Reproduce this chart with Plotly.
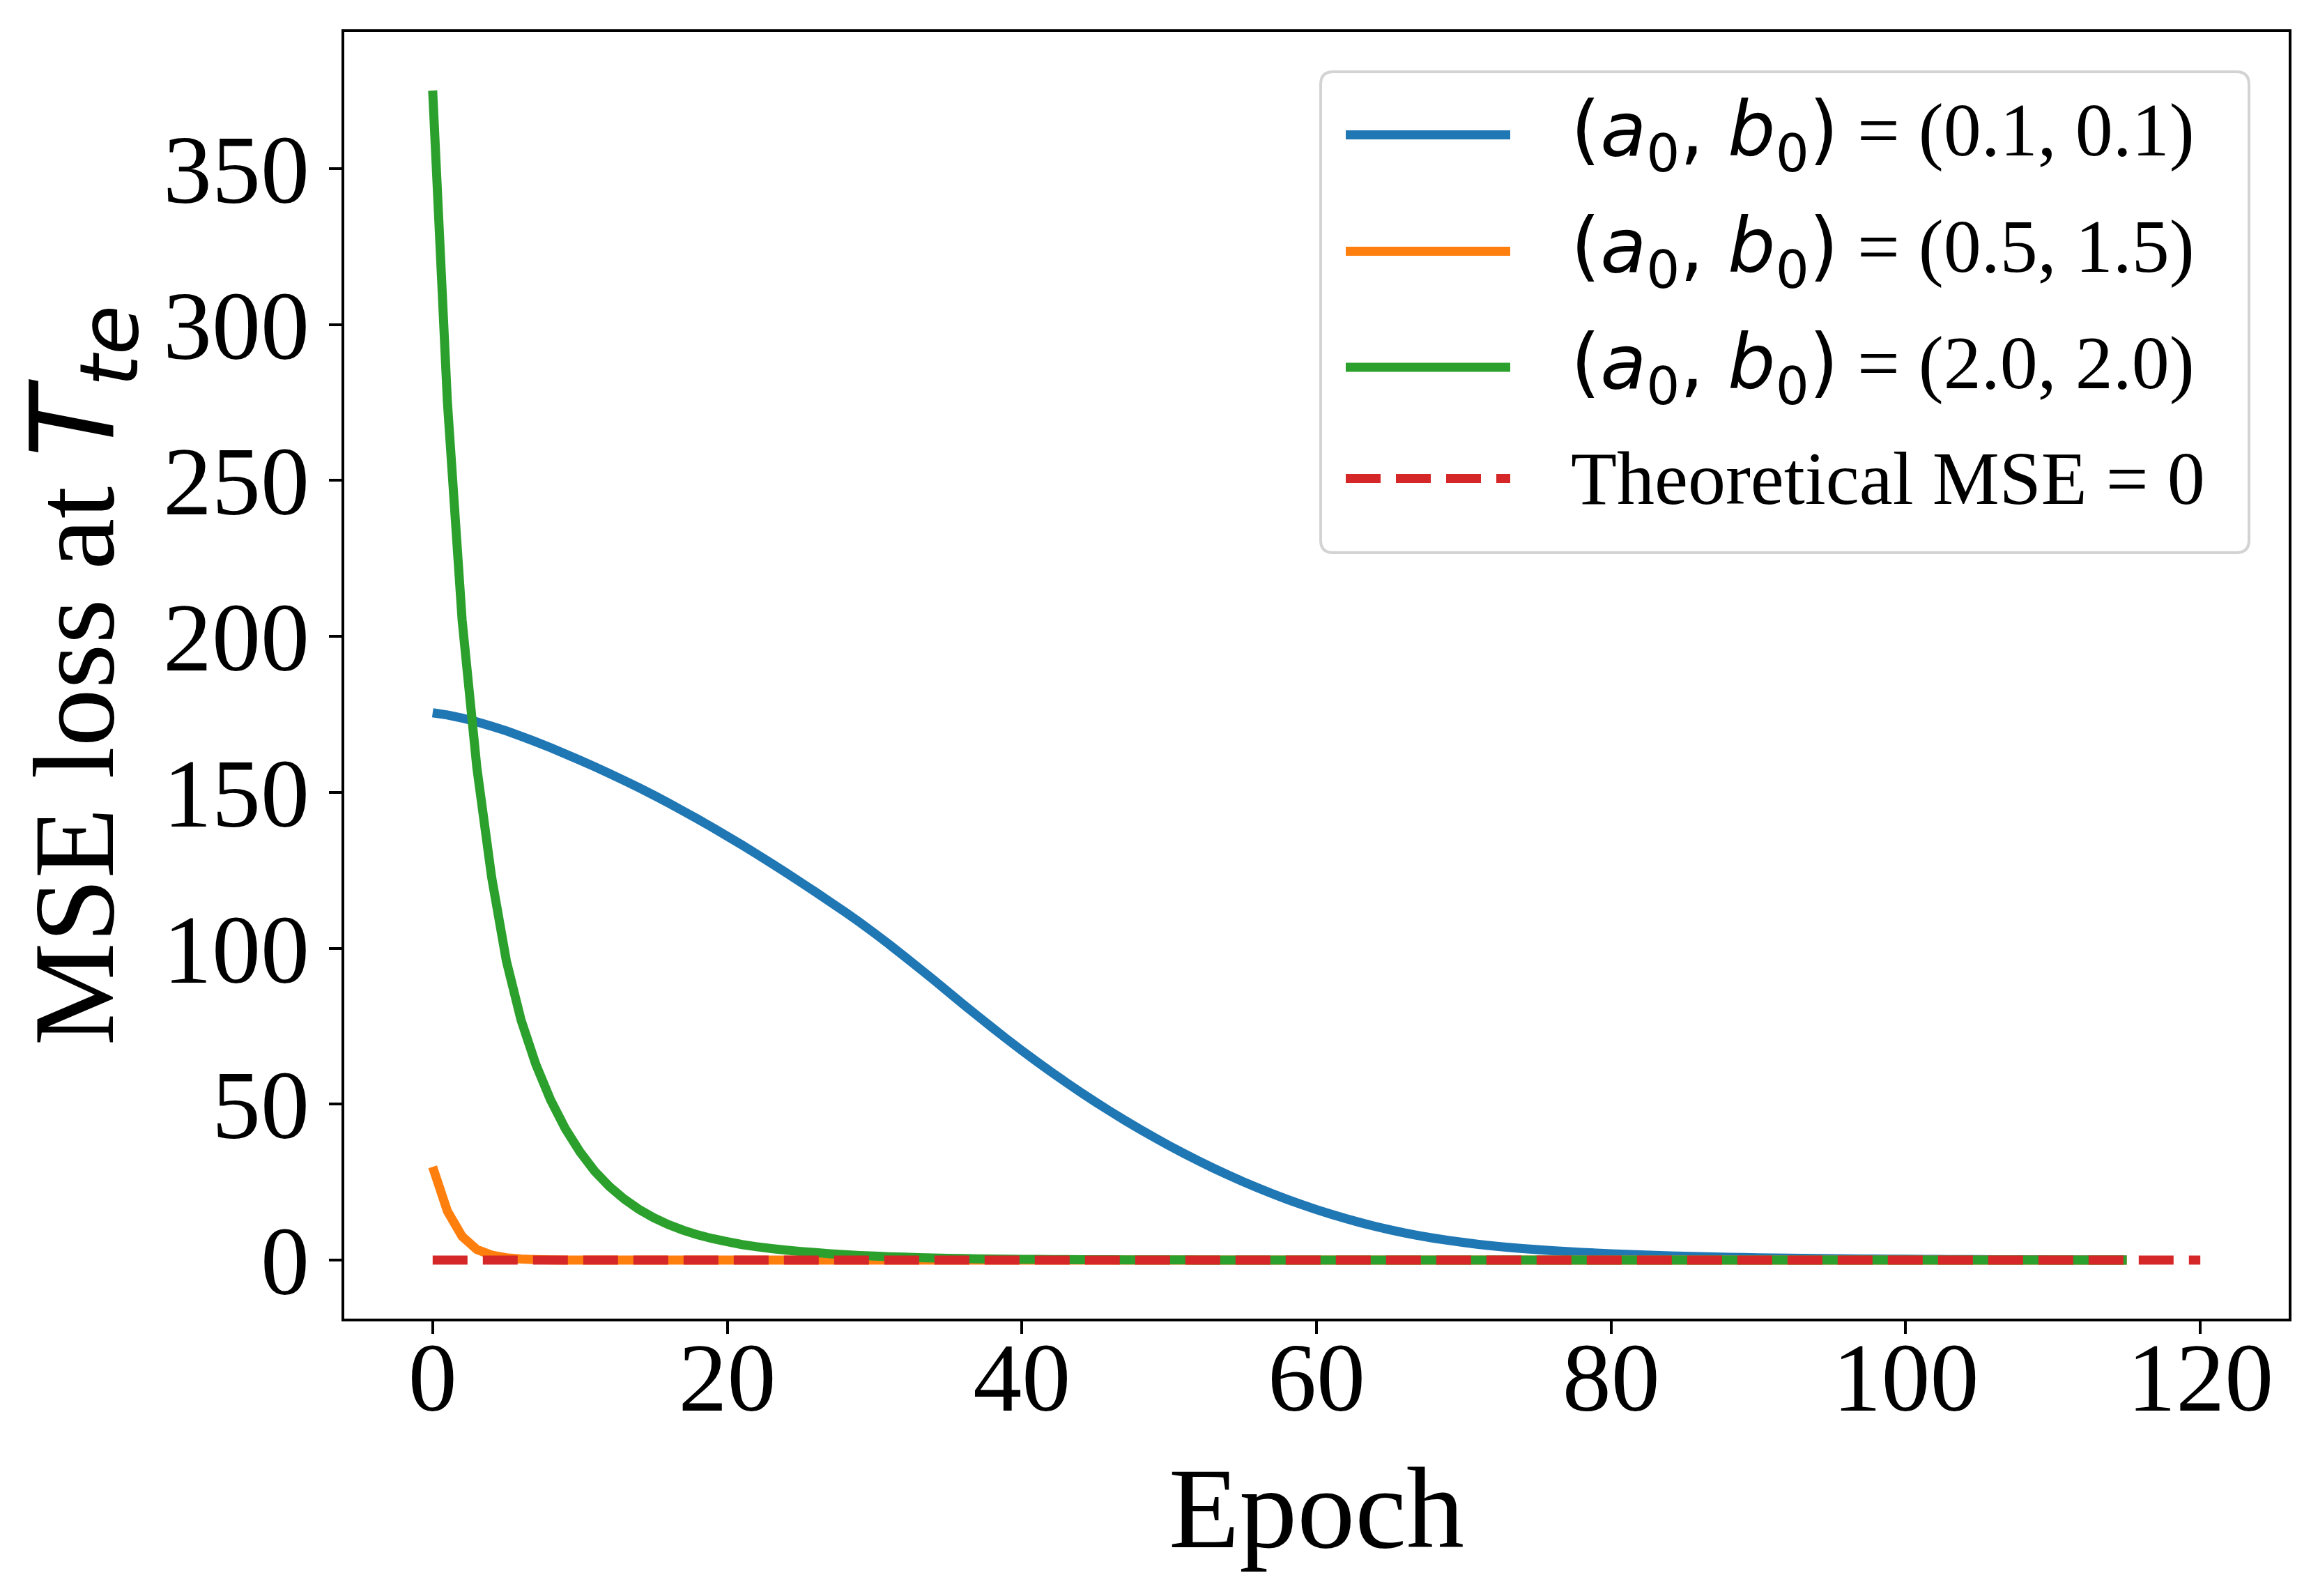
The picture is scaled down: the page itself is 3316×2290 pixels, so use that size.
import plotly.graph_objects as go

# canvas and plot-area box (pixels)
FIG_W, FIG_H = 3316, 2290
AX_L, AX_R, AX_T, AX_B = 486, 3276, 38, 1884

epochs = list(range(116))
theory_x = [0, 120]
theory_y = [0, 0]

# (a0, b0) = (0.1, 0.1)
blue_loss = [
    175.5, 174.8, 173.8, 172.6, 171.2, 169.7, 168.0, 166.2, 164.3, 162.3,
    160.3, 158.2, 156.0, 153.8, 151.5, 149.1, 146.6, 144.0, 141.4, 138.7,
    135.9, 133.1, 130.2, 127.2, 124.2, 121.1, 118.0, 114.8, 111.6, 108.3,
    104.8, 101.2, 97.5, 93.7, 89.9, 86.0, 82.1, 78.3, 74.5, 70.8,
    67.2, 63.7, 60.3, 57.0, 53.8, 50.7, 47.7, 44.8, 42.0, 39.3,
    36.7, 34.2, 31.8, 29.5, 27.3, 25.2, 23.2, 21.3, 19.5, 17.8,
    16.2, 14.7, 13.3, 12.0, 10.8, 9.7, 8.7, 7.8, 7.0, 6.3,
    5.65, 5.05, 4.55, 4.1, 3.7, 3.35, 3.05, 2.75, 2.5, 2.25,
    2.05, 1.85, 1.68, 1.52, 1.38, 1.25, 1.13, 1.02, 0.93, 0.84,
    0.76, 0.69, 0.63, 0.57, 0.52, 0.47, 0.42, 0.38, 0.34, 0.31,
    0.28, 0.25, 0.23, 0.21, 0.19, 0.17, 0.15, 0.14, 0.12, 0.11,
    0.10, 0.09, 0.08, 0.07, 0.065, 0.06,
]

# (a0, b0) = (0.5, 1.5)
orange_loss = [
    29.9, 15.7, 7.6, 3.4, 1.6, 0.75, 0.35, 0.17, 0.08, 0.04,
    0.02, 0.01, 0.0, 0.0, 0.0, 0.0, 0.0, 0.0, 0.0, 0.0,
    0.0, 0.0, 0.0, 0.0, 0.0, 0.0, 0.0, 0.0, 0.0, 0.0,
    0.0, 0.0, 0.0, 0.0, 0.0, 0.0, 0.0, 0.0, 0.0, 0.0,
    0.0, 0.0, 0.0, 0.0, 0.0, 0.0, 0.0, 0.0, 0.0, 0.0,
    0.0, 0.0, 0.0, 0.0, 0.0, 0.0, 0.0, 0.0, 0.0, 0.0,
    0.0, 0.0, 0.0, 0.0, 0.0, 0.0, 0.0, 0.0, 0.0, 0.0,
    0.0, 0.0, 0.0, 0.0, 0.0, 0.0, 0.0, 0.0, 0.0, 0.0,
    0.0, 0.0, 0.0, 0.0, 0.0, 0.0, 0.0, 0.0, 0.0, 0.0,
    0.0, 0.0, 0.0, 0.0, 0.0, 0.0, 0.0, 0.0, 0.0, 0.0,
    0.0, 0.0, 0.0, 0.0, 0.0, 0.0, 0.0, 0.0, 0.0, 0.0,
    0.0, 0.0, 0.0, 0.0, 0.0, 0.0,
]

# (a0, b0) = (2.0, 2.0)
green_loss = [
    375.0, 275.2, 205.2, 157.9, 122.9, 96.0, 77.0, 62.8, 51.4, 42.2,
    34.7, 28.5, 23.6, 19.6, 16.3, 13.6, 11.4, 9.6, 8.1, 6.9,
    5.9, 5.0, 4.3, 3.7, 3.2, 2.75, 2.4, 2.05, 1.75, 1.5,
    1.3, 1.1, 0.95, 0.8, 0.7, 0.6, 0.5, 0.43, 0.37, 0.32,
    0.27, 0.23, 0.2, 0.17, 0.15, 0.13, 0.11, 0.095, 0.08, 0.07,
    0.06, 0.05, 0.045, 0.04, 0.035, 0.03, 0.025, 0.02, 0.018, 0.015,
    0.013, 0.011, 0.01, 0.009, 0.008, 0.007, 0.006, 0.005, 0.005, 0.004,
    0.004, 0.003, 0.003, 0.003, 0.002, 0.002, 0.002, 0.002, 0.001, 0.001,
    0.001, 0.001, 0.001, 0.001, 0.001, 0.001, 0.001, 0.001, 0.001, 0.001,
    0.0, 0.0, 0.0, 0.0, 0.0, 0.0, 0.0, 0.0, 0.0, 0.0,
    0.0, 0.0, 0.0, 0.0, 0.0, 0.0, 0.0, 0.0, 0.0, 0.0,
    0.0, 0.0, 0.0, 0.0, 0.0, 0.0,
]

MATH_AB = ("<span style='font-family:DejaVu Sans'>(<i>a</i><sub>0</sub>, "
           "<i>b</i><sub>0</sub>)</span>")
legend_labels = [
    MATH_AB + " = (0.1, 0.1)",
    MATH_AB + " = (0.5, 1.5)",
    MATH_AB + " = (2.0, 2.0)",
    "Theoretical MSE = 0",
]
colors = ["#1f77b4", "#ff7f0e", "#2ca02c", "#d62728"]
x_ticks = [0, 20, 40, 60, 80, 100, 120]
y_ticks = [0, 50, 100, 150, 200, 250, 300, 350]

SERIF = "Liberation Serif"
LINE_W = 13
DASH = "50px,22px"


def px_x(xp):
    return (xp - AX_L) / (AX_R - AX_L)


def px_y(yp):
    return (AX_B - yp) / (AX_B - AX_T)


fig = go.Figure()
for ys, col in zip([blue_loss, orange_loss, green_loss], colors[:3]):
    fig.add_trace(go.Scatter(x=epochs, y=ys, mode="lines",
                             line=dict(color=col, width=LINE_W, simplify=False),
                             showlegend=False))
fig.add_trace(go.Scatter(x=theory_x, y=theory_y, mode="lines",
                         line=dict(color=colors[3], width=LINE_W, dash=DASH),
                         showlegend=False))

# legend drawn by hand so the line samples match the long matplotlib ones
bx0, bx1, by0, by1, r = 1887, 3219, 95, 785, 18
corners = [
    ("M", bx0 + r, by0), ("L", bx1 - r, by0), ("Q", bx1, by0, bx1, by0 + r),
    ("L", bx1, by1 - r), ("Q", bx1, by1, bx1 - r, by1), ("L", bx0 + r, by1),
    ("Q", bx0, by1, bx0, by1 - r), ("L", bx0, by0 + r), ("Q", bx0, by0, bx0 + r, by0),
]
path = ""
for c in corners:
    pts = c[1:]
    coords = " ".join(f"{px_x(pts[i]):.5f},{px_y(pts[i + 1]):.5f}" for i in range(0, len(pts), 2))
    path += f"{c[0]} {coords} "
path += "Z"
shapes = [dict(type="path", path=path, xref="paper", yref="paper", layer="above",
               fillcolor="rgba(255,255,255,0.8)", line=dict(color="#d3d3d3", width=4))]

row_y = [185.5, 352.5, 519, 678.6]
annotations = []
for i, (lab, col) in enumerate(zip(legend_labels, colors)):
    shapes.append(dict(type="line", xref="paper", yref="paper", layer="above",
                       x0=px_x(1923), x1=px_x(2159), y0=px_y(row_y[i]), y1=px_y(row_y[i]),
                       line=dict(color=col, width=LINE_W, dash=DASH if i == 3 else "solid")))
    annotations.append(dict(text=lab, xref="paper", yref="paper", x=px_x(2244), y=px_y(row_y[i]),
                            xanchor="left", yanchor="middle", showarrow=False,
                            font=dict(family=SERIF, size=108, color="black")))

fig.update_layout(
    width=FIG_W, height=FIG_H,
    margin=dict(l=AX_L, r=FIG_W - AX_R, t=AX_T, b=FIG_H - AX_B, autoexpand=False),
    paper_bgcolor="white", plot_bgcolor="white",
    font=dict(family=SERIF, color="black"),
    shapes=shapes, annotations=annotations,
)
fig.update_xaxes(range=[-6, 126], tickvals=x_ticks, showgrid=False, zeroline=False,
                 showline=True, mirror=True, linecolor="black", linewidth=4,
                 ticks="outside", ticklen=18, tickwidth=4, tickcolor="black",
                 ticklabelstandoff=-58,
                 tickfont=dict(family=SERIF, size=140, color="black"),
                 title=dict(text="Epoch", font=dict(family=SERIF, size=166, color="black"), standoff=52),
                 automargin=False)
fig.update_yaxes(range=[-18.75, 393.75], tickvals=y_ticks, showgrid=False, zeroline=False,
                 showline=True, mirror=True, linecolor="black", linewidth=4,
                 ticks="outside", ticklen=18, tickwidth=4, tickcolor="black",
                 tickfont=dict(family=SERIF, size=140, color="black"),
                 title=dict(text="MSE loss at <span style='font-family:DejaVu Sans'><i>T</i><sub><i>te</i></sub></span>",
                            font=dict(family=SERIF, size=166, color="black"), standoff=40),
                 automargin=False)

fig.write_html("out.html")
